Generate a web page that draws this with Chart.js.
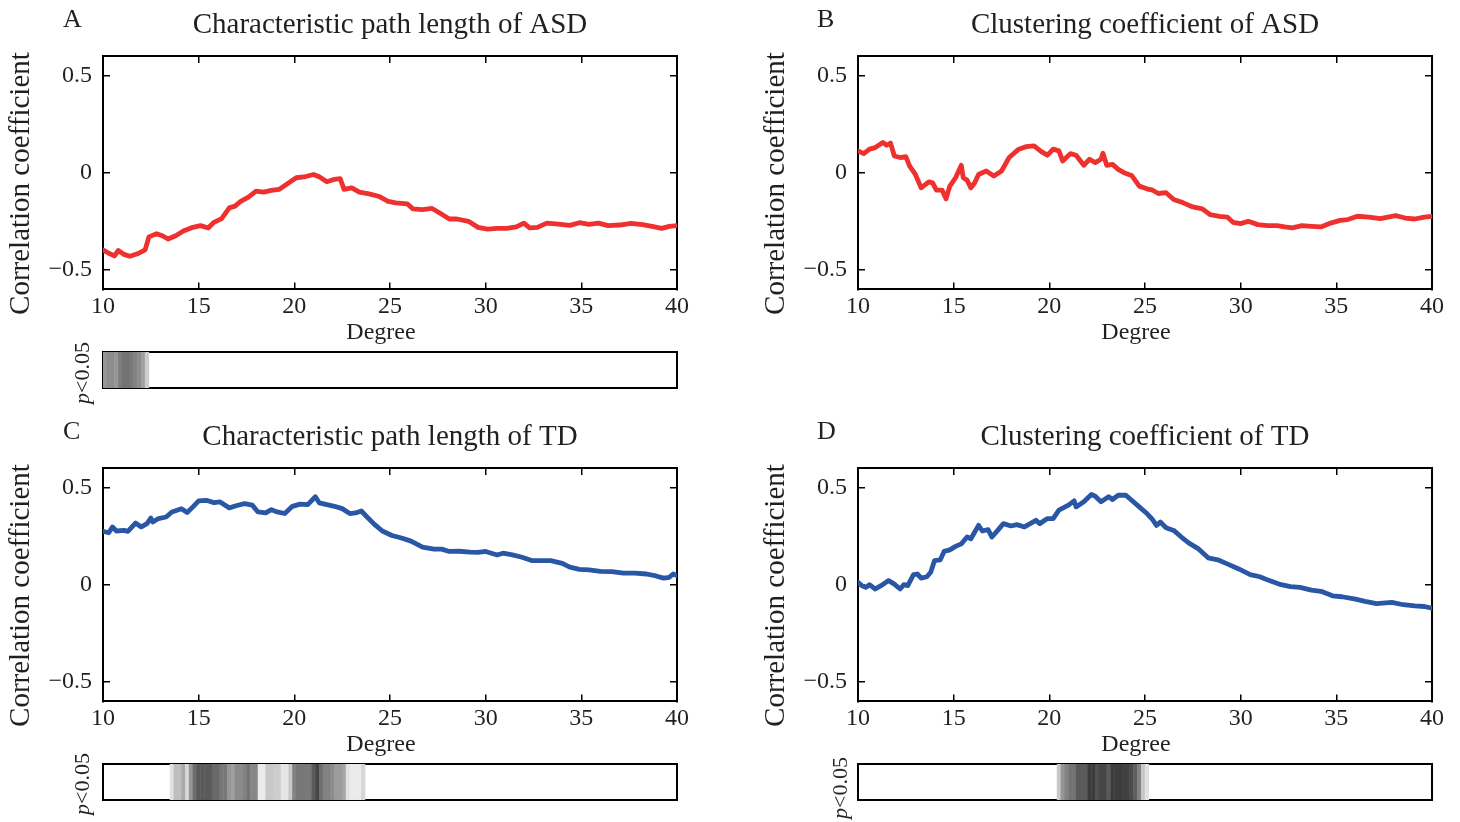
<!DOCTYPE html>
<html>
<head>
<meta charset="utf-8">
<script src="https://cdn.jsdelivr.net/npm/chart.js@4"></script>
<style>
  body { margin: 0; background: #fff; width: 1460px; height: 822px; position: relative; overflow: hidden; font-family: 'Liberation Serif', 'Times New Roman', serif; color: #231f20; }
  canvas { position: absolute; }
  .letter { position: absolute; font-size: 26px; line-height: 1; }
  .pval { position: absolute; font-size: 22px; line-height: 1; white-space: nowrap; transform: translate(-50%, -50%) rotate(-90deg); }
</style>
</head>
<body>
<canvas id="lineA" width="720" height="350" style="left:0;top:0"></canvas>
<canvas id="lineB" width="720" height="350" style="left:755px;top:0"></canvas>
<canvas id="lineC" width="720" height="350" style="left:0;top:412px"></canvas>
<canvas id="lineD" width="720" height="350" style="left:755px;top:412px"></canvas>
<canvas id="sigA" width="720" height="60" style="left:0;top:340px"></canvas>
<canvas id="sigC" width="720" height="60" style="left:0;top:752px"></canvas>
<canvas id="sigD" width="720" height="60" style="left:755px;top:752px"></canvas>

<div class="letter" style="left:63px;top:6px">A</div>
<div class="letter" style="left:817px;top:6px">B</div>
<div class="letter" style="left:63px;top:418px">C</div>
<div class="letter" style="left:817px;top:418px">D</div>
<div class="pval" style="left:82px;top:373px"><i>p</i>&lt;0.05</div>
<div class="pval" style="left:82px;top:784px"><i>p</i>&lt;0.05</div>
<div class="pval" style="left:840px;top:788px"><i>p</i>&lt;0.05</div>

<script>
// tick values
const xTicks = [10, 15, 20, 25, 30, 35, 40];
const yTicks = [-0.5, 0, 0.5];

// A: characteristic path length, ASD
const aDeg = [10.0,10.3,10.6,10.8,11.1,11.4,11.8,12.2,12.4,12.8,13.1,13.4,13.8,14.2,14.7,15.1,15.5,15.8,16.2,16.6,16.9,17.2,17.6,18.0,18.4,18.8,19.2,19.6,20.1,20.5,21.0,21.3,21.7,22.1,22.4,22.6,23.0,23.4,23.9,24.4,24.9,25.3,25.9,26.2,26.7,27.2,27.6,28.1,28.5,29.1,29.6,30.1,30.6,31.1,31.6,32.0,32.3,32.7,33.2,33.8,34.4,34.9,35.4,35.9,36.4,37.0,37.6,38.2,38.7,39.2,39.6,40.0];
const aCorr = [-0.397,-0.414,-0.428,-0.40,-0.42,-0.43,-0.417,-0.397,-0.33,-0.314,-0.324,-0.341,-0.324,-0.30,-0.281,-0.272,-0.284,-0.255,-0.236,-0.181,-0.172,-0.147,-0.126,-0.095,-0.10,-0.091,-0.086,-0.06,-0.026,-0.022,-0.009,-0.021,-0.047,-0.034,-0.031,-0.086,-0.078,-0.10,-0.109,-0.121,-0.147,-0.155,-0.16,-0.186,-0.19,-0.184,-0.207,-0.238,-0.238,-0.25,-0.281,-0.29,-0.286,-0.286,-0.279,-0.259,-0.284,-0.281,-0.259,-0.264,-0.271,-0.257,-0.266,-0.259,-0.272,-0.269,-0.26,-0.267,-0.276,-0.286,-0.276,-0.272];

// B: clustering coefficient, ASD
const bDeg = [10.0,10.3,10.6,10.9,11.3,11.5,11.7,11.9,12.2,12.5,12.7,13.0,13.3,13.7,13.9,14.1,14.4,14.6,14.8,15.1,15.4,15.5,15.7,15.9,16.1,16.3,16.7,17.1,17.5,17.9,18.4,18.8,19.2,19.6,19.9,20.2,20.5,20.7,21.1,21.4,21.8,22.1,22.4,22.7,22.8,23.0,23.3,23.6,23.9,24.3,24.7,25.1,25.4,25.7,26.1,26.5,27.0,27.5,28.0,28.4,28.9,29.3,29.6,30.0,30.4,30.9,31.4,31.9,32.3,32.7,33.2,33.7,34.2,34.7,35.2,35.6,36.1,36.7,37.3,38.1,38.6,39.1,39.6,40.0];
const bCorr = [0.112,0.098,0.121,0.129,0.155,0.141,0.152,0.086,0.078,0.083,0.034,-0.009,-0.078,-0.047,-0.052,-0.09,-0.09,-0.134,-0.069,-0.026,0.038,-0.026,-0.038,-0.078,-0.052,-0.009,0.009,-0.017,0.009,0.078,0.121,0.134,0.138,0.107,0.09,0.121,0.112,0.06,0.098,0.09,0.038,0.069,0.052,0.069,0.10,0.038,0.043,0.017,0,-0.014,-0.069,-0.083,-0.09,-0.107,-0.103,-0.138,-0.155,-0.176,-0.186,-0.216,-0.224,-0.228,-0.255,-0.262,-0.25,-0.267,-0.272,-0.272,-0.279,-0.284,-0.272,-0.276,-0.279,-0.259,-0.245,-0.241,-0.224,-0.228,-0.236,-0.221,-0.233,-0.238,-0.228,-0.224];

// C: characteristic path length, TD
const cDeg = [10.0,10.3,10.5,10.7,11.1,11.3,11.7,12.0,12.3,12.5,12.6,12.9,13.3,13.6,14.1,14.4,14.7,15.0,15.4,15.8,16.1,16.6,17.0,17.4,17.8,18.1,18.5,18.8,19.1,19.5,19.9,20.3,20.7,21.1,21.3,21.7,22.1,22.5,22.9,23.2,23.5,23.8,24.2,24.6,25.1,25.6,26.1,26.7,27.3,27.7,28.1,28.6,29.2,29.6,30.0,30.6,30.9,31.4,31.9,32.4,32.9,33.4,34.0,34.4,34.9,35.4,36.0,36.6,37.2,37.8,38.4,38.9,39.3,39.6,39.8,40.0];
const cCorr = [0.274,0.267,0.297,0.276,0.279,0.274,0.317,0.297,0.314,0.343,0.322,0.34,0.348,0.374,0.391,0.371,0.40,0.431,0.434,0.422,0.426,0.395,0.407,0.417,0.409,0.374,0.369,0.386,0.374,0.366,0.403,0.414,0.412,0.452,0.421,0.412,0.403,0.391,0.366,0.369,0.379,0.348,0.309,0.276,0.253,0.24,0.224,0.193,0.183,0.183,0.171,0.172,0.167,0.166,0.171,0.153,0.162,0.153,0.141,0.124,0.124,0.124,0.11,0.09,0.079,0.076,0.069,0.067,0.059,0.06,0.055,0.045,0.034,0.038,0.055,0.047];

// D: clustering coefficient, TD
const dDeg = [10.0,10.2,10.4,10.6,10.9,11.2,11.6,11.9,12.2,12.4,12.6,12.9,13.1,13.3,13.6,13.8,14.0,14.3,14.5,14.8,15.1,15.4,15.7,15.9,16.3,16.5,16.8,17.0,17.3,17.6,18.0,18.3,18.7,19.0,19.3,19.5,19.9,20.2,20.5,21.0,21.3,21.4,21.8,22.2,22.4,22.7,23.1,23.3,23.6,24.0,24.3,24.7,25.1,25.4,25.6,25.8,26.1,26.5,26.9,27.3,27.8,28.3,28.8,29.3,29.9,30.5,31.0,31.5,32.0,32.6,33.1,33.7,34.2,34.8,35.3,36.0,36.5,37.1,37.9,38.5,39.1,39.6,40.0];
const dCorr = [0.012,-0.005,-0.014,0,-0.022,-0.005,0.021,0.003,-0.022,0,-0.005,0.052,0.055,0.034,0.041,0.064,0.124,0.128,0.171,0.179,0.197,0.21,0.245,0.236,0.305,0.276,0.283,0.245,0.279,0.314,0.302,0.309,0.297,0.314,0.331,0.314,0.34,0.34,0.383,0.409,0.431,0.40,0.426,0.464,0.455,0.426,0.452,0.438,0.46,0.46,0.434,0.40,0.366,0.334,0.305,0.322,0.293,0.279,0.245,0.214,0.184,0.138,0.128,0.107,0.081,0.052,0.041,0.021,0.003,-0.01,-0.014,-0.028,-0.034,-0.057,-0.062,-0.074,-0.086,-0.097,-0.091,-0.103,-0.109,-0.112,-0.121];

// significance stripes: first degree, step, gray level of each step
const sigStep = 0.2;
const sigAStart = 10.0;
const sigAGray = [150,140,140,150,125,115,115,120,130,140,160,205];
const sigCStart = 13.5;
const sigCGray = [225,190,190,170,215,150,110,90,90,90,90,105,105,120,120,150,160,140,140,130,115,135,135,235,235,200,200,205,205,230,230,200,130,120,120,120,120,90,70,110,130,130,140,155,155,165,225,235,235,235,215];
const sigDStart = 20.4;
const sigDGray = [200,150,130,115,115,90,90,90,60,60,80,70,70,90,60,60,60,65,65,75,95,130,200,225];

const ink = '#231f20';
const serif = "'Liberation Serif', 'Times New Roman', serif";
const red = 'rgb(238,48,46)';
const blue = 'rgb(42,86,166)';
Chart.defaults.font.family = serif;
Chart.defaults.color = ink;

const setTicks = vals => s => { s.ticks = vals.map(v => ({ value: v })); };
const frameGrid = { drawOnChartArea: false, color: '#000', lineWidth: 1.5, tickLength: -7 };
const frameBorder = { color: '#000', width: 2 };
const fmtY = v => (v < 0 ? '\u2212' : '') + Math.abs(v);

function lineChart(id, title, xs, ys, color) {
  new Chart(document.getElementById(id), {
    type: 'line',
    data: {
      datasets: [{
        data: xs.map((x, i) => ({ x: x, y: ys[i] })),
        borderColor: color,
        borderWidth: 4.8,
        pointRadius: 0,
        tension: 0,
        borderJoinStyle: 'round',
        borderCapStyle: 'round'
      }]
    },
    options: {
      responsive: false,
      animation: false,
      events: [],
      layout: { padding: { left: 0, right: 43, top: 0, bottom: 3.1 } },
      plugins: { legend: { display: false }, tooltip: { enabled: false } },
      scales: {
        x: {
          type: 'linear', position: 'bottom', min: 10, max: 40,
          afterBuildTicks: setTicks(xTicks),
          ticks: { font: { size: 24 }, color: ink, padding: 10, maxRotation: 0 },
          grid: frameGrid, border: frameBorder,
          title: { display: true, text: 'Degree   ', color: ink, font: { size: 24 }, padding: 0 },
          afterFit: s => { s.height = 57.5; }
        },
        // top axis carries the panel title, centred over the plot
        x2: {
          type: 'linear', position: 'top', min: 10, max: 40,
          afterBuildTicks: setTicks(xTicks),
          ticks: { display: false },
          grid: frameGrid, border: frameBorder,
          title: { display: true, text: title, color: ink, font: { size: 29 }, padding: { top: 8, bottom: 0 } },
          afterFit: s => { s.height = 56; }
        },
        y: {
          type: 'linear', position: 'left', min: -0.6, max: 0.6,
          afterBuildTicks: setTicks(yTicks),
          ticks: { font: { size: 24 }, color: ink, padding: 18, callback: fmtY },
          grid: frameGrid, border: frameBorder,
          title: { display: true, text: 'Correlation coefficient   ', color: ink, font: { size: 29 }, padding: { top: 4, bottom: 0 } },
          afterFit: s => { s.width = 103; }
        },
        y2: {
          type: 'linear', position: 'right', min: -0.6, max: 0.6,
          afterBuildTicks: setTicks(yTicks),
          ticks: { display: false },
          grid: frameGrid, border: frameBorder,
          afterFit: s => { s.width = 0; }
        }
      }
    }
  });
}

function sigChart(id, start, grays) {
  const pts = grays.map((g, i) => ({ x: start + sigStep * (i + 0.5), y: 1 }));
  const plain = { ticks: { display: false }, grid: { display: false }, border: frameBorder };
  new Chart(document.getElementById(id), {
    type: 'bar',
    data: {
      datasets: [{
        data: pts,
        backgroundColor: grays.map(g => `rgb(${g},${g},${g})`),
        borderWidth: 0,
        barPercentage: 1.12,
        categoryPercentage: 1
      }]
    },
    options: {
      responsive: false,
      animation: false,
      events: [],
      layout: { padding: { left: 0, right: 43, top: 12, bottom: 12 } },
      plugins: { legend: { display: false }, tooltip: { enabled: false } },
      scales: {
        x: Object.assign({ type: 'linear', position: 'bottom', min: 10, max: 40, offset: false, afterFit: s => { s.height = 0; } }, plain),
        x2: Object.assign({ type: 'linear', position: 'top', min: 10, max: 40, afterFit: s => { s.height = 0; } }, plain),
        y: Object.assign({ type: 'linear', position: 'left', min: 0, max: 1, afterFit: s => { s.width = 103; } }, plain),
        y2: Object.assign({ type: 'linear', position: 'right', min: 0, max: 1, afterFit: s => { s.width = 0; } }, plain)
      }
    }
  });
}

lineChart('lineA', 'Characteristic path length of ASD', aDeg, aCorr, red);
lineChart('lineB', 'Clustering coefficient of ASD', bDeg, bCorr, red);
lineChart('lineC', 'Characteristic path length of TD', cDeg, cCorr, blue);
lineChart('lineD', 'Clustering coefficient of TD', dDeg, dCorr, blue);
sigChart('sigA', sigAStart, sigAGray);
sigChart('sigC', sigCStart, sigCGray);
sigChart('sigD', sigDStart, sigDGray);
</script>
</body>
</html>
